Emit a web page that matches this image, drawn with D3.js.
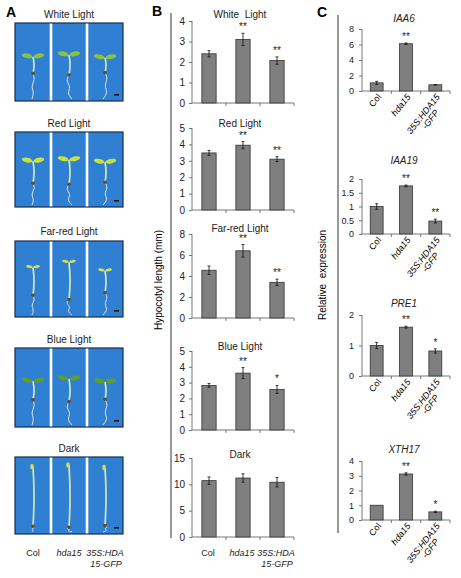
<!DOCTYPE html>
<html lang="en">
<head>
    <meta charset="UTF-8">
    <title>HDA15 hypocotyl figure</title>
    <style>
        body { margin: 0; background: #fff; }
        svg { font-family: "Liberation Sans", Arial, sans-serif; display: block; }
        .axis path, .axis line { stroke: #555; stroke-width: 0.8; }
        .axis text { font-size: 10px; fill: #222; }
        .c-panel .axis text { font-size: 9px; }
        .title { font-size: 10px; fill: #222; white-space: pre; }
    </style>
</head>
<body>
    <div id="chart"></div>
    <script src="https://d3js.org/d3.v7.min.js"></script>
    <script>
        // ---- data ----
        const genotypes = ["Col", "hda15", "35S:HDA15-GFP"];
        const lightConditions = ["White  Light", "Red Light", "Far-red Light", "Blue Light", "Dark"];
        const hypocotylMean = [
            [2.4, 3.1, 2.07],
            [3.48, 3.95, 3.1],
            [4.55, 6.4, 3.4],
            [2.82, 3.6, 2.57],
            [10.7, 11.2, 10.4]
        ];
        const hypocotylErr = [
            [0.15, 0.3, 0.18],
            [0.15, 0.22, 0.15],
            [0.4, 0.6, 0.3],
            [0.12, 0.35, 0.25],
            [0.7, 0.8, 0.9]
        ];
        const hypocotylStars = [
            ["", "**", "**"],
            ["", "**", "**"],
            ["", "**", "**"],
            ["", "**", "*"],
            ["", "", ""]
        ];
        const hypocotylTicks = [
            [0, 1, 2, 3, 4],
            [0, 1, 2, 3, 4, 5],
            [0, 2, 4, 6, 8],
            [0, 1, 2, 3, 4, 5],
            [0, 5, 10, 15]
        ];

        const genes = ["IAA6", "IAA19", "PRE1", "XTH17"];
        const exprMean = [
            [1.05, 6.1, 0.8],
            [1.0, 1.75, 0.47],
            [1.0, 1.6, 0.82],
            [1.0, 3.12, 0.55]
        ];
        const exprErr = [
            [0.2, 0.1, 0.03],
            [0.1, 0.03, 0.07],
            [0.1, 0.03, 0.07],
            [0.0, 0.08, 0.05]
        ];
        const exprStars = [
            ["", "**", ""],
            ["", "**", "**"],
            ["", "**", "*"],
            ["", "**", "*"]
        ];
        const exprTicks = [
            [0, 2, 4, 6, 8],
            [0, 0.5, 1, 1.5, 2],
            [0, 1, 2],
            [0, 1, 2, 3, 4]
        ];

        // ---- layout ----
        const W = 461, H = 578;
        const svg = d3.select("#chart").append("svg")
            .attr("width", W).attr("height", H);

        // panel letters
        [["A", 6, 17], ["B", 152, 16], ["C", 317, 17]].forEach(([t, x, y]) => {
            svg.append("text").attr("x", x).attr("y", y)
                .style("font-size", "14px").style("font-weight", "bold").text(t);
        });

        // ---- A: photos (stylised) ----
        const photoX = [15, 123];
        const photoBoxes = [[23, 101], [132, 207], [241, 317], [348, 427], [457, 534]];
        const photoTitleY = [18, 127, 235, 343, 452];
        const cotyColor = ["#8dc23c", "#c9e23a", "#d3dc5a", "#5f9e2e", "#d6d84e"];
        const rootWiggle = [[0, 2, -2, 1, -1], [0, -3, 2, -2, 3], [0, 3, -1, 3, -2]];

        const gA = svg.append("g");
        const photoBand = d3.scaleBand().domain(genotypes).range(photoX);

        lightConditions.forEach((cond, ci) => {
            const [top, bottom] = photoBoxes[ci];
            const boxH = bottom - top;
            gA.append("text").attr("class", "title")
                .attr("x", (photoX[0] + photoX[1]) / 2).attr("y", photoTitleY[ci])
                .attr("text-anchor", "middle").text(cond.replace("  ", " "));
            gA.append("rect")
                .attr("x", photoX[0]).attr("y", top)
                .attr("width", photoX[1] - photoX[0]).attr("height", boxH)
                .attr("fill", "#2f80d2").attr("stroke", "#1c2c4c").attr("stroke-width", 1.2);

            genotypes.forEach((gt, gi) => {
                const cx = photoBand(gt) + photoBand.bandwidth() / 2;
                const len = 4 + 5.2 * hypocotylMean[ci][gi];
                const topY = top + (boxH - len) * 0.55;
                const baseY = topY + len;
                const sg = gA.append("g");
                // root
                const wig = rootWiggle[gi];
                const rootPts = wig.map((w, k) => [cx + w, baseY + (bottom - 2 - baseY) * k / (wig.length - 1)]);
                sg.append("path")
                    .attr("d", d3.line().curve(d3.curveBasis)(rootPts))
                    .attr("fill", "none").attr("stroke", "#dfe8f0").attr("stroke-width", 1);
                // hypocotyl
                sg.append("path")
                    .attr("d", `M${cx},${baseY} Q${cx + 2},${(topY + baseY) / 2} ${cx},${topY}`)
                    .attr("fill", "none").attr("stroke", "#d9e6bd").attr("stroke-width", 1.7);
                // cotyledons
                if (ci === 4) {
                    sg.append("ellipse").attr("cx", cx - 1).attr("cy", topY)
                        .attr("rx", 1.8).attr("ry", 2.8).attr("fill", cotyColor[ci]);
                } else {
                    const big = ci === 2 ? 0.55 : 0.9;
                    [-1, 1].forEach(s => {
                        sg.append("ellipse")
                            .attr("cx", cx + s * 6.5 * big).attr("cy", topY - 1)
                            .attr("rx", 6 * big).attr("ry", 2.6 * big)
                            .attr("transform", `rotate(${s * -12},${cx + s * 6.5 * big},${topY - 1})`)
                            .attr("fill", cotyColor[ci]);
                    });
                }
                // seed coat
                sg.append("circle").attr("cx", cx).attr("cy", baseY)
                    .attr("r", 1.8).attr("fill", "#6b4a1e");
            });

            // white dividers
            [1, 2].forEach(k => {
                gA.append("rect")
                    .attr("x", photoX[0] + (photoX[1] - photoX[0]) * k / 3 - 1.3)
                    .attr("y", top + 0.6).attr("width", 2.6).attr("height", boxH - 1.2)
                    .attr("fill", "#fff");
            });
            // scale bar
            gA.append("rect").attr("x", photoX[1] - 9).attr("y", bottom - 7)
                .attr("width", 5).attr("height", 1.6).attr("fill", "#111");
        });

        // genotype labels under photos / under B
        function genotypeLabels(g, centers, y) {
            genotypes.forEach((gt, i) => {
                const t = g.append("text").attr("text-anchor", "middle")
                    .attr("y", y).style("font-size", "9px").attr("fill", "#222");
                if (i === 0) t.attr("x", centers[i]).text(gt);
                if (i === 1) t.attr("x", centers[i]).style("font-style", "italic").text(gt);
                if (i === 2) {
                    t.style("font-style", "italic");
                    t.append("tspan").attr("x", centers[i]).text("35S:HDA");
                    t.append("tspan").attr("x", centers[i] + 1).attr("dy", 11).text("15-GFP");
                }
            });
        }
        genotypeLabels(gA, genotypes.map(gt => photoBand(gt) + photoBand.bandwidth() / 2), 556);

        // ---- bar panel helper ----
        function barPanel(g, opt) {
            const x = d3.scaleBand().domain(genotypes).range([opt.x0, opt.x1]);
            const ymax = d3.max(opt.ticks);
            const y = d3.scaleLinear().domain([0, ymax]).range([opt.y0, opt.y1]);

            g.append("g").attr("class", "axis")
                .attr("transform", `translate(${opt.x0},0)`)
                .call(d3.axisLeft(y).tickValues(opt.ticks).tickSize(3).tickSizeOuter(0)
                    .tickPadding(opt.pad).tickFormat(d3.format("")))
                .call(a => a.select(".domain").attr("d", `M0,${opt.y0}V${opt.y1}`));

            // x axis with ticks between categories
            const xa = g.append("g").attr("class", "axis");
            xa.append("path").attr("d", `M${opt.x0},${opt.y0}H${opt.x1}`);
            genotypes.forEach(gt => {
                xa.append("line")
                    .attr("x1", x(gt) + x.bandwidth()).attr("x2", x(gt) + x.bandwidth())
                    .attr("y1", opt.y0).attr("y2", opt.y0 + 3);
            });

            const bw = x.bandwidth() * opt.barFrac;
            genotypes.forEach((gt, i) => {
                const cx = x(gt) + x.bandwidth() / 2;
                const m = opt.mean[i], e = opt.err[i];
                g.append("rect")
                    .attr("x", cx - bw / 2).attr("y", y(m))
                    .attr("width", bw).attr("height", opt.y0 - y(m))
                    .attr("fill", "#7f7f7f").attr("stroke", "#333").attr("stroke-width", 0.8);
                if (e > 0) {
                    g.append("path")
                        .attr("d", `M${cx},${y(m - e)}V${y(m + e)}M${cx - 1.5},${y(m - e)}h3M${cx - 1.5},${y(m + e)}h3`)
                        .attr("stroke", "#111").attr("stroke-width", 0.8).attr("fill", "none");
                }
                if (opt.stars[i]) {
                    g.append("text").attr("x", cx).attr("y", y(m + e) - 3)
                        .attr("text-anchor", "middle").style("font-size", "10px")
                        .attr("fill", "#222").text(opt.stars[i]);
                }
            });

            g.append("text").attr("class", "title")
                .attr("x", opt.titleX).attr("y", opt.titleY)
                .attr("text-anchor", "middle")
                .style("font-style", opt.italic ? "italic" : "normal")
                .text(opt.title);
            return x;
        }

        // ---- B ----
        const gB = svg.append("g");
        gB.append("line").attr("x1", 171).attr("x2", 171).attr("y1", 13).attr("y2", 538)
            .attr("stroke", "#333").attr("stroke-width", 1);
        gB.append("text").attr("transform", "translate(162,280) rotate(-90)")
            .attr("text-anchor", "middle").style("font-size", "10px").text("Hypocotyl length (mm)");

        const bBoxes = [[103, 21], [210, 128], [318, 234], [430, 351], [537, 458]];
        const bTitleY = [18, 127, 232, 350, 458];
        let xB;
        lightConditions.forEach((cond, ci) => {
            xB = barPanel(gB, {
                x0: 192, x1: 294, y0: bBoxes[ci][0], y1: bBoxes[ci][1], pad: 4,
                ticks: hypocotylTicks[ci], mean: hypocotylMean[ci], err: hypocotylErr[ci],
                stars: hypocotylStars[ci], barFrac: 0.42,
                title: cond, titleX: 240, titleY: bTitleY[ci], italic: false
            });
        });
        genotypeLabels(gB, genotypes.map(gt => xB(gt) + xB.bandwidth() / 2 - 1), 556);

        // ---- C ----
        const gC = svg.append("g").attr("class", "c-panel");
        gC.append("line").attr("x1", 338).attr("x2", 338).attr("y1", 15).attr("y2", 533)
            .attr("stroke", "#333").attr("stroke-width", 1);
        gC.append("text").attr("transform", "translate(326,275) rotate(-90)")
            .attr("text-anchor", "middle").style("font-size", "10px").text("Relative  expression")
            .style("white-space", "pre");

        const cBoxes = [[91, 29], [234, 179], [376, 315], [520, 461]];
        const cTitleY = [22, 164, 307, 453];
        genes.forEach((gene, gi) => {
            const x = barPanel(gC, {
                x0: 362, x1: 450, y0: cBoxes[gi][0], y1: cBoxes[gi][1], pad: 5,
                ticks: exprTicks[gi], mean: exprMean[gi], err: exprErr[gi],
                stars: exprStars[gi], barFrac: 0.44,
                title: gene, titleX: 404, titleY: cTitleY[gi], italic: true
            });
            genotypes.forEach((gt, i) => {
                const ex = x(gt) + x.bandwidth() / 2 + 5;
                const ey = cBoxes[gi][0] + 6;
                const t = gC.append("text")
                    .attr("transform", `translate(${ex},${ey}) rotate(-52)`)
                    .attr("text-anchor", "end").style("font-size", "9px")
                    .style("font-style", i === 0 ? "normal" : "italic");
                if (i < 2) {
                    t.text(gt);
                } else {
                    const l1 = t.append("tspan").attr("x", 0).text("35S:HDA15");
                    const l2 = t.append("tspan").attr("x", 0).attr("dy", 9).text("-GFP");
                    const w1 = l1.node().getComputedTextLength();
                    const w2 = l2.node().getComputedTextLength();
                    l2.attr("x", -(w1 - w2) / 2);
                }
            });
        });
    </script>
</body>
</html>
